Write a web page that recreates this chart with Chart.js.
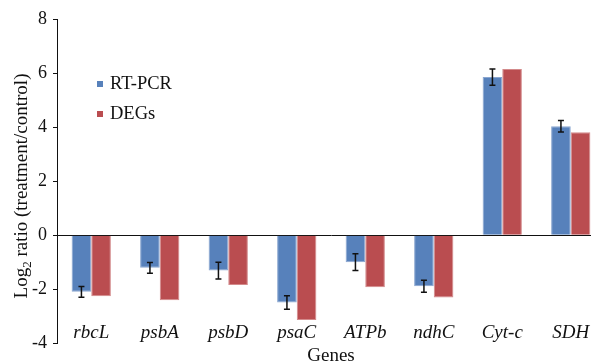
<!DOCTYPE html>
<html>
<head>
<meta charset="utf-8">
<script src="https://cdn.jsdelivr.net/npm/chart.js@4/dist/chart.umd.min.js"></script>
<style>
  html, body { margin: 0; padding: 0; background: #fff; overflow: hidden; }
  #wrap { position: absolute; left: 0; top: 0; width: 605px; height: 369px; }
</style>
</head>
<body>
<div id="wrap"><canvas id="barChart"></canvas></div>
<script>
/** datos de la grafica */
const genes = ["rbcL", "psbA", "psbD", "psaC", "ATPb", "ndhC", "Cyt-c", "SDH"];
const rtpcr = [-2.1, -1.21, -1.31, -2.49, -1.0, -1.89, 5.85, 4.03];
const rtpcr_err = [0.2, 0.2, 0.31, 0.25, 0.31, 0.22, 0.3, 0.21];
const degs = [-2.26, -2.41, -1.85, -3.14, -1.93, -2.31, 6.15, 3.81];
const y_ticks = [-4, -2, 0, 2, 4, 6, 8];

const FONT = "'Liberation Serif', 'Times New Roman', serif";

/** barras de error sobre RT-PCR */
const errorBars = {
  id: 'errorBars',
  afterDatasetsDraw(chart) {
    const ctx = chart.ctx;
    const y = chart.scales.y;
    const meta = chart.getDatasetMeta(0);
    ctx.save();
    ctx.strokeStyle = '#111';
    ctx.lineWidth = 1.5;
    meta.data.forEach(function (bar, i) {
      const v = rtpcr[i], e = rtpcr_err[i];
      const top = y.getPixelForValue(v + e);
      const bot = y.getPixelForValue(v - e);
      ctx.beginPath();
      ctx.moveTo(bar.x, top); ctx.lineTo(bar.x, bot);
      ctx.moveTo(bar.x - 3, top); ctx.lineTo(bar.x + 3, top);
      ctx.moveTo(bar.x - 3, bot); ctx.lineTo(bar.x + 3, bot);
      ctx.stroke();
    });
    ctx.restore();
  }
};

/** etiquetas, leyenda y titulo del eje y */
const extras = {
  id: 'extras',
  afterDraw(chart) {
    const ctx = chart.ctx;
    const x = chart.scales.x;
    const area = chart.chartArea;
    ctx.save();
    ctx.fillStyle = '#111';

    // nombres de genes en cursiva
    ctx.font = 'italic 19px ' + FONT;
    ctx.textAlign = 'center';
    ctx.textBaseline = 'alphabetic';
    genes.forEach(function (g, i) {
      ctx.fillText(g, x.getPixelForValue(i), area.bottom - 5);
    });

    // leyenda
    ctx.font = '18.5px ' + FONT;
    ctx.textAlign = 'left';
    ctx.textBaseline = 'middle';
    chart.data.datasets.forEach(function (ds, i) {
      const cy = 84 + i * 30;
      ctx.fillStyle = ds.backgroundColor;
      ctx.fillRect(97, cy - 3, 6, 6);
      ctx.fillStyle = '#111';
      ctx.fillText(ds.label, 110, cy);
    });

    // titulo eje y con subindice
    ctx.translate(27, 186);
    ctx.rotate(-Math.PI / 2);
    ctx.textBaseline = 'alphabetic';
    const big = '19px ' + FONT, small = '13px ' + FONT;
    ctx.font = big;
    const w1 = ctx.measureText('Log').width;
    const w3 = ctx.measureText(' ratio (treatment/control)').width;
    ctx.font = small;
    const w2 = ctx.measureText('2').width;
    let sx = -(w1 + w2 + w3) / 2;
    ctx.font = big;
    ctx.fillText('Log', sx, 0);
    ctx.font = small;
    ctx.fillText('2', sx + w1, 4);
    ctx.font = big;
    ctx.fillText(' ratio (treatment/control)', sx + w1 + w2, 0);
    ctx.restore();
  }
};

var ctx = document.getElementById("barChart").getContext('2d');
var barChart = new Chart(ctx, {
  type: 'bar',
  data: {
    labels: genes,
    datasets: [{
      label: 'RT-PCR',
      data: rtpcr,
      backgroundColor: '#5781bb',
      borderColor: '#8aa6d0',
      borderWidth: 1
    }, {
      label: 'DEGs',
      data: degs,
      backgroundColor: '#ba4d50',
      borderColor: '#d38a8b',
      borderWidth: 1
    }]
  },
  options: {
    responsive: true,
    maintainAspectRatio: false,
    animation: false,
    layout: { padding: { top: 19, left: 0, right: 0, bottom: 0 } },
    plugins: { legend: { display: false }, tooltip: { enabled: false } },
    datasets: { bar: { categoryPercentage: 0.573, barPercentage: 1.0 } },
    scales: {
      x: {
        grid: { display: false, drawTicks: false },
        border: { display: false },
        ticks: { display: false },
        title: {
          display: true, text: 'Genes', color: '#111',
          font: { family: FONT, size: 19 },
          padding: { top: 1, bottom: 2 }
        }
      },
      y: {
        min: -4, max: 8,
        afterFit: function (s) { s.width = 57; },
        afterBuildTicks: function (s) { s.ticks = y_ticks.map(v => ({ value: v })); },
        border: { display: true, color: '#111', width: 1 },
        grid: {
          color: c => (c.tick && c.tick.value === 0) ? '#111' : 'rgba(0,0,0,0)',
          tickColor: '#111',
          tickLength: 4,
          lineWidth: 1
        },
        ticks: {
          color: '#111', padding: 6,
          font: { family: FONT, size: 18 }
        }
      }
    }
  },
  plugins: [errorBars, extras]
});
</script>
</body>
</html>
